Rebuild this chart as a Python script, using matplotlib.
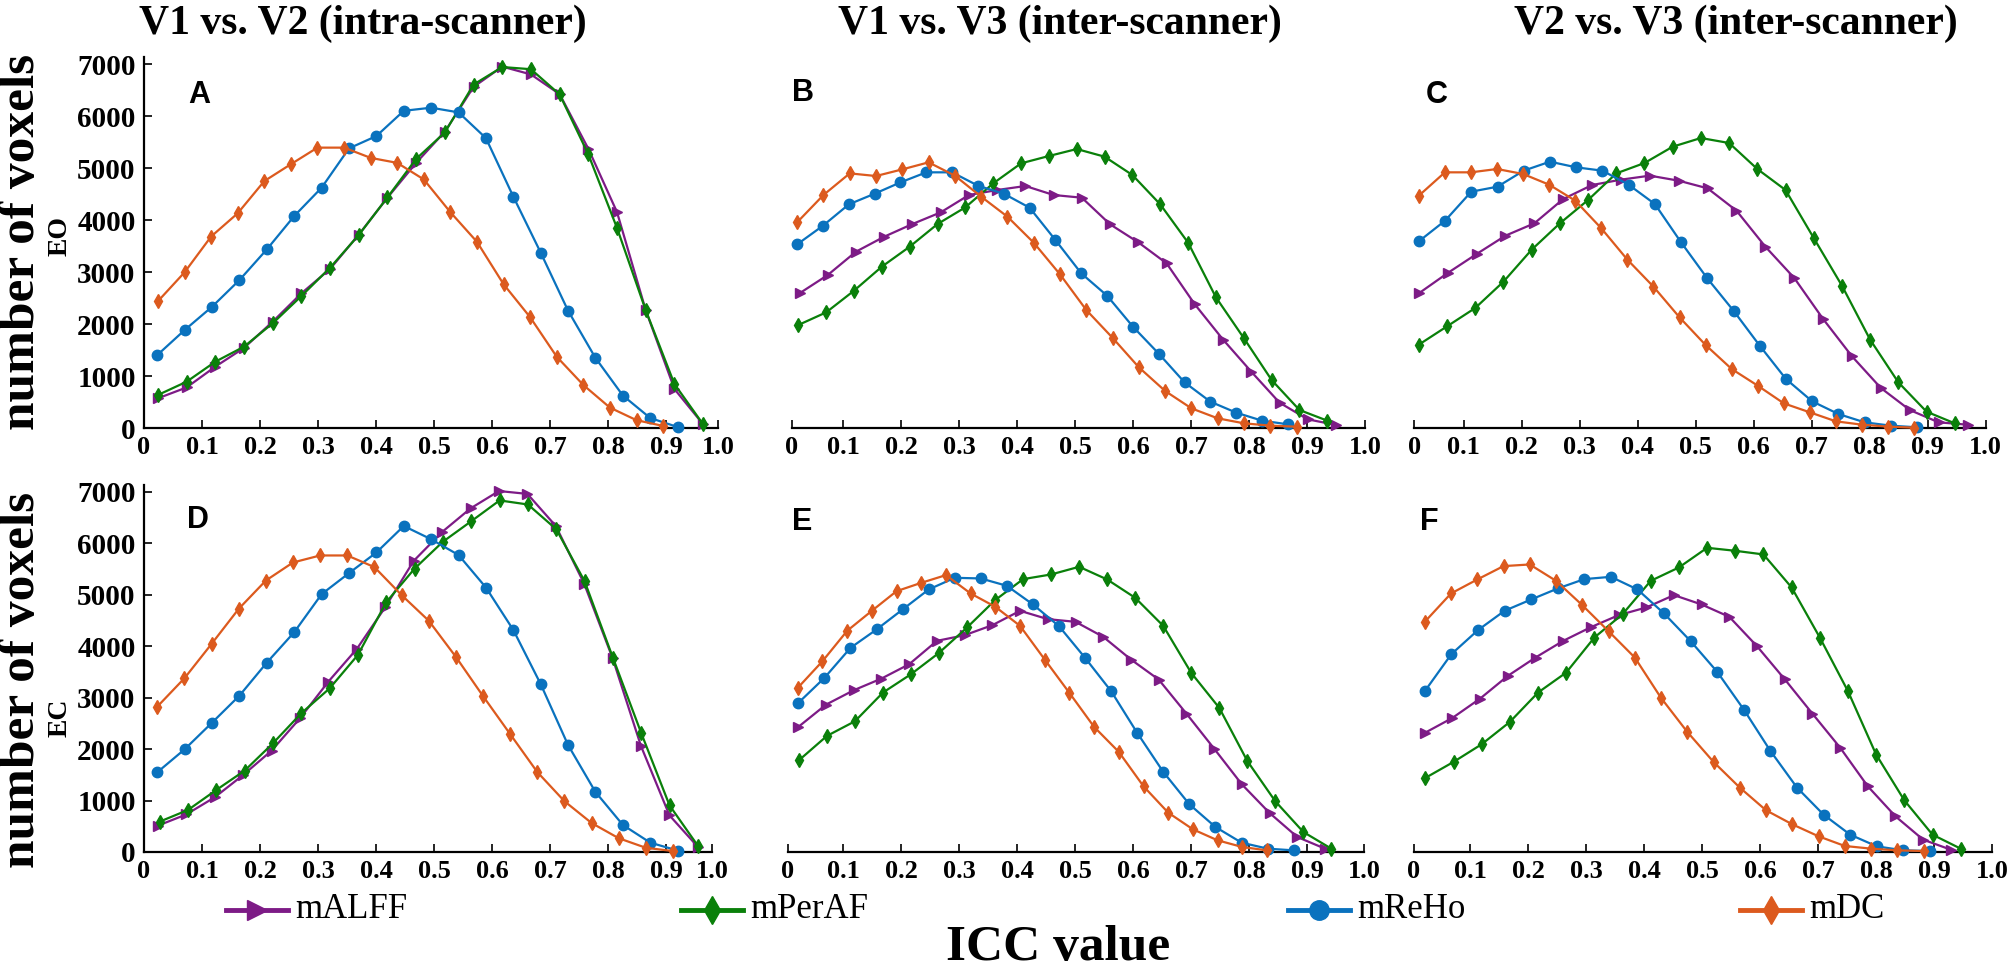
import numpy as np
import matplotlib
matplotlib.use("Agg")
import matplotlib.pyplot as plt
from matplotlib.lines import Line2D

# ---- data: counts per ICC bin (20 bins per metric) ----
metrics = ["mALFF", "mPerAF", "mReHo", "mDC"]
colors = ["#7d1b86", "#0a800a", "#0a72be", "#dc5a1e"]
markers = [">", "d", "o", "d"]

# first / last bin centre of each metric, per panel
A_bins = [(0.024, 0.964), (0.024, 0.964), (0.023, 0.920), (0.024, 0.895)]
B_bins = [(0.025, 0.950), (0.023, 0.935), (0.021, 0.867), (0.021, 0.882)]
C_bins = [(0.023, 0.969), (0.023, 0.947), (0.023, 0.882), (0.023, 0.877)]
D_bins = [(0.024, 0.955), (0.027, 0.955), (0.023, 0.920), (0.023, 0.912)]
E_bins = [(0.023, 0.931), (0.024, 0.942), (0.023, 0.877), (0.022, 0.831)]
F_bins = [(0.022, 0.929), (0.023, 0.946), (0.022, 0.893), (0.022, 0.882)]

A_mALFF = [571, 780, 1180, 1540, 2045, 2590, 3060, 3720, 4430, 5100, 5700, 6560, 6950, 6800, 6420, 5370, 4150, 2265, 750, 71]
A_mPerAF = [635, 890, 1275, 1564, 2013, 2538, 3083, 3712, 4436, 5176, 5684, 6605, 6942, 6900, 6415, 5262, 3846, 2265, 846, 71]
A_mReHo = [1404, 1885, 2333, 2846, 3436, 4077, 4622, 5378, 5615, 6100, 6160, 6070, 5575, 4450, 3373, 2256, 1348, 625, 192, 19]
A_mDC = [2438, 2993, 3682, 4129, 4748, 5073, 5392, 5392, 5195, 5099, 4780, 4150, 3580, 2765, 2130, 1370, 827, 392, 150, 40]

B_mALFF = [2590, 2942, 3391, 3679, 3923, 4147, 4481, 4577, 4654, 4481, 4429, 3917, 3570, 3167, 2378, 1700, 1083, 487, 167, 58]
B_mPerAF = [1981, 2224, 2641, 3103, 3487, 3923, 4244, 4705, 5090, 5231, 5365, 5218, 4865, 4301, 3564, 2513, 1730, 923, 346, 141]
B_mReHo = [3532, 3891, 4301, 4506, 4724, 4917, 4917, 4660, 4506, 4237, 3615, 2974, 2545, 1949, 1430, 878, 506, 295, 141, 71]
B_mDC = [3956, 4481, 4897, 4846, 4974, 5109, 4853, 4449, 4064, 3564, 2955, 2269, 1734, 1167, 712, 378, 186, 90, 45, 25]

C_mALFF = [2590, 2981, 3346, 3699, 3936, 4404, 4673, 4776, 4853, 4756, 4609, 4179, 3487, 2885, 2096, 1378, 769, 346, 109, 64]
C_mPerAF = [1603, 1955, 2308, 2814, 3429, 3936, 4385, 4897, 5096, 5410, 5577, 5481, 4981, 4577, 3654, 2737, 1699, 878, 314, 90]
C_mReHo = [3590, 3987, 4545, 4641, 4949, 5122, 5013, 4949, 4679, 4308, 3571, 2878, 2256, 1583, 942, 513, 269, 109, 45, 13]
C_mDC = [4468, 4917, 4917, 4981, 4885, 4679, 4372, 3840, 3237, 2718, 2128, 1596, 1135, 814, 474, 301, 128, 64, 26, 6]

D_mALFF = [512, 731, 1064, 1498, 1971, 2601, 3314, 3949, 4760, 5660, 6222, 6680, 7018, 6962, 6338, 5214, 3766, 2056, 712, 99]
D_mPerAF = [590, 817, 1206, 1582, 2114, 2698, 3181, 3833, 4858, 5510, 6033, 6431, 6835, 6756, 6275, 5265, 3777, 2311, 905, 120]
D_mReHo = [1551, 1998, 2516, 3041, 3683, 4274, 5013, 5422, 5823, 6338, 6080, 5774, 5142, 4317, 3264, 2079, 1167, 526, 182, 28]
D_mDC = [2827, 3379, 4047, 4728, 5278, 5629, 5765, 5765, 5538, 4995, 4497, 3794, 3032, 2293, 1555, 988, 564, 268, 82, 18]

E_mALFF = [2432, 2866, 3145, 3372, 3651, 4105, 4215, 4410, 4689, 4527, 4475, 4183, 3742, 3353, 2691, 2010, 1316, 759, 292, 65]
E_mPerAF = [1783, 2257, 2542, 3100, 3457, 3872, 4365, 4896, 5305, 5396, 5545, 5298, 4942, 4397, 3482, 2802, 1770, 986, 389, 65]
E_mReHo = [2899, 3385, 3969, 4326, 4715, 5104, 5331, 5318, 5175, 4812, 4390, 3774, 3126, 2315, 1556, 927, 486, 182, 65, 32]
E_mDC = [3191, 3709, 4300, 4689, 5071, 5233, 5383, 5026, 4767, 4397, 3742, 3093, 2432, 1946, 1278, 765, 441, 227, 97, 32]

F_mALFF = [2315, 2607, 2983, 3424, 3781, 4105, 4371, 4604, 4754, 4994, 4812, 4572, 4001, 3359, 2691, 2030, 1278, 694, 240, 45]
F_mPerAF = [1440, 1751, 2095, 2529, 3100, 3489, 4170, 4624, 5272, 5532, 5914, 5856, 5785, 5143, 4170, 3126, 1894, 1005, 337, 65]
F_mReHo = [3126, 3846, 4313, 4689, 4909, 5123, 5305, 5350, 5104, 4637, 4099, 3502, 2769, 1965, 1252, 726, 337, 110, 32, 19]
F_mDC = [4475, 5026, 5298, 5558, 5590, 5272, 4799, 4293, 3781, 2996, 2335, 1751, 1252, 811, 538, 305, 117, 65, 32, 19]

titles = ["V1 vs. V2 (intra-scanner)", "V1 vs. V3 (inter-scanner)", "V2 vs. V3 (inter-scanner)"]
yticks = [0, 1000, 2000, 3000, 4000, 5000, 6000, 7000]
xtick_labels = ["0", "0.1", "0.2", "0.3", "0.4", "0.5", "0.6", "0.7", "0.8", "0.9", "1.0"]

# ---- layout (pixels) ----
W, H = 2009, 969
SERIF = "Liberation Serif"


def rect(left, right, top, bottom):
    return [left / W, 1 - bottom / H, (right - left) / W, (bottom - top) / H]


fig = plt.figure(figsize=(W / 100, H / 100), dpi=100)

# (label, data, bins, x of ICC=0 in px, xlim, row top, row bottom, has y axis, letter pos)
panels = [
    ("A", [A_mALFF, A_mPerAF, A_mReHo, A_mDC], A_bins, 144, (0.0, 0.99), 57, 428, True, (188, 103)),
    ("B", [B_mALFF, B_mPerAF, B_mReHo, B_mDC], B_bins, 785, (0.012, 1.0), 57, 428, False, (792, 101)),
    ("C", [C_mALFF, C_mPerAF, C_mReHo, C_mDC], C_bins, 1405.5, (0.015, 1.0), 57, 428, False, (1426, 103)),
    ("D", [D_mALFF, D_mPerAF, D_mReHo, D_mDC], D_bins, 144, (0.0, 0.98), 485, 852, True, (187, 528)),
    ("E", [E_mALFF, E_mPerAF, E_mReHo, E_mDC], E_bins, 785, (0.005, 0.998), 485, 852, False, (792, 530)),
    ("F", [F_mALFF, F_mPerAF, F_mReHo, F_mDC], F_bins, 1412, (0.003, 1.0), 485, 852, False, (1420, 530)),
]

for letter, series, bins, x0, xlim, top, bottom, has_y, lpos in panels:
    left = x0 + xlim[0] * 580
    right = x0 + xlim[1] * 580
    ax = fig.add_axes(rect(left, right, top, bottom))
    for vals, (b0, b1), c, m in zip(series, bins, colors, markers):
        x = np.linspace(b0, b1, len(vals))
        ax.plot(x, vals, color=c, marker=m, markersize=7.5, lw=1.6,
                markeredgecolor=c, clip_on=False, zorder=3)
    ax.set_xlim(*xlim)
    ax.set_ylim(0, 7135)
    for s in ["top", "right"]:
        ax.spines[s].set_visible(False)
    ax.spines["bottom"].set_linewidth(1.6)
    ax.set_xticks([xlim[0]] + [i / 10 for i in range(1, 10)] + [xlim[1]])
    ax.set_xticklabels(xtick_labels, fontfamily=SERIF, fontweight="bold", fontsize=19)
    ax.tick_params(axis="x", direction="in", length=6, width=1.2, pad=6)
    if has_y:
        ax.spines["left"].set_linewidth(1.6)
        ax.set_yticks(yticks)
        ax.set_yticklabels([str(v) for v in yticks], fontfamily=SERIF,
                           fontweight="bold", fontsize=21)
        ax.tick_params(axis="y", direction="in", length=6, width=1.2, pad=6)
    else:
        ax.spines["left"].set_visible(False)
        ax.set_yticks([])
    fig.text(lpos[0] / W, 1 - lpos[1] / H, letter, fontfamily="Liberation Sans",
             fontweight="bold", fontsize=22, ha="left", va="baseline")

# column titles
for t, cx in zip(titles, [363, 1060, 1736]):
    fig.text(cx / W, 1 - 24 / H, t, fontfamily=SERIF, fontweight="bold",
             fontsize=30, ha="center", va="center")

# y labels
for cy, sub, sy in [(242, "EO", 236), (680, "EC", 718)]:
    fig.text(22 / W, 1 - cy / H, "number of voxels", fontfamily=SERIF, fontweight="bold",
             fontsize=37, rotation=90, ha="center", va="center")
    fig.text(60 / W, 1 - sy / H, sub, fontfamily=SERIF, fontweight="bold",
             fontsize=20, rotation=90, ha="center", va="center")

fig.text(1058 / W, 1 - 948 / H, "ICC value", fontfamily=SERIF, fontweight="bold",
         fontsize=37, ha="center", va="center")

# legend drawn by hand along the bottom
legend_x = [226, 681, 1288, 1740]
for name, c, m, lx in zip(metrics, colors, markers, legend_x):
    ly = 1 - 910 / H
    fig.add_artist(Line2D([lx / W, (lx + 62) / W], [ly, ly], color=c, lw=3.5))
    fig.add_artist(Line2D([(lx + 31) / W], [ly], color=c, marker=m, markersize=14,
                          markeredgecolor=c))
    fig.text((lx + 69) / W, ly, name, fontfamily=SERIF, fontsize=25,
             ha="left", va="center")

fig.savefig("out.png", dpi=100)
